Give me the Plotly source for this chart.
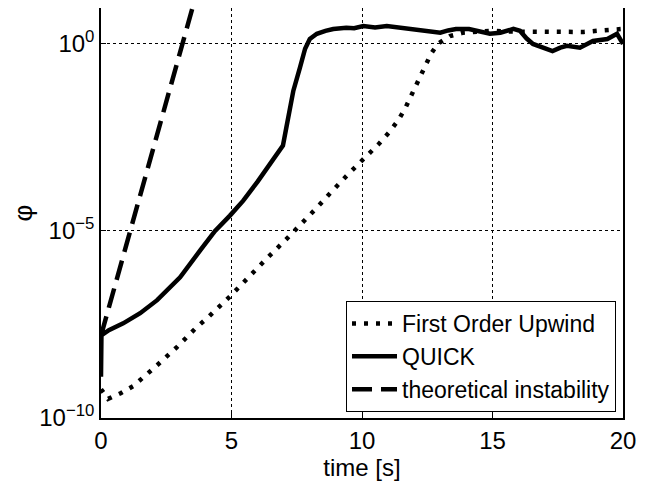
import plotly.graph_objects as go

# ---- data (log10 values) ----
upwind_t = [0.0, 0.27, 0.77, 1.23, 2.07, 2.9, 3.67, 4.1, 4.94, 5.7, 6.36, 7.13, 7.55, 7.93,
            8.31, 8.7, 9.08, 9.46, 9.88, 10.3, 10.65, 11.03, 11.38, 11.65, 11.92, 12.15,
            12.38, 12.64, 12.9, 13.37, 13.87, 14.5, 15.0, 15.5, 16.0, 16.5, 17.0, 17.5,
            18.0, 18.5, 19.0, 19.5, 20.0]
upwind_log = [-9.23, -9.49, -9.33, -9.15, -8.64, -8.11, -7.57, -7.31, -6.75, -6.19, -5.73,
              -5.2, -4.91, -4.64, -4.35, -4.05, -3.79, -3.49, -3.2, -2.93, -2.67, -2.37,
              -2.05, -1.73, -1.33, -0.93, -0.64, -0.27, 0.0, 0.21, 0.3, 0.33, 0.35, 0.33,
              0.33, 0.3, 0.3, 0.3, 0.3, 0.32, 0.35, 0.37, 0.4]

quick_t = [0.0, 0.02, 0.1, 0.3, 0.85, 1.5, 2.15, 3.03, 3.8, 4.37, 4.94, 5.45, 6.0, 6.47,
           6.97, 7.1, 7.37, 7.62, 7.82, 8.0, 8.27, 8.6, 8.9, 9.4, 9.7, 10.05, 10.5, 10.95,
           11.3, 11.6, 12.0, 12.35, 12.7, 13.0, 13.3, 13.6, 14.1, 14.5, 14.9, 15.3, 15.8,
           16.05, 16.3, 16.55, 16.9, 17.3, 17.6, 17.85, 18.35, 18.85, 19.4, 19.77, 20.0]
quick_log = [-8.9, -7.6, -7.75, -7.65, -7.47, -7.2, -6.85, -6.24, -5.52, -5.0, -4.59, -4.19,
             -3.68, -3.2, -2.72, -2.24, -1.25, -0.64, -0.13, 0.13, 0.27, 0.35, 0.4, 0.43,
             0.42, 0.48, 0.44, 0.48, 0.45, 0.43, 0.38, 0.35, 0.33, 0.3, 0.36, 0.4, 0.4,
             0.33, 0.27, 0.3, 0.4, 0.35, 0.15, 0.0, -0.08, -0.19, -0.1, -0.05, -0.1, 0.08,
             0.13, 0.27, 0.0]

theory_t = [0.0, 3.6]
theory_log = [-7.8, 1.2]

ytick_vals = [1e-10, 1e-5, 1e0]
ytick_text = ["10<sup>−10</sup>", "10<sup>−5</sup>", "10<sup>0</sup>"]
xtick_vals = [0, 5, 10, 15, 20]

upwind_y = [10 ** v for v in upwind_log]
quick_y = [10 ** v for v in quick_log]
theory_y = [10 ** v for v in theory_log]

fig = go.Figure()
fig.add_trace(go.Scatter(x=upwind_t, y=upwind_y, mode="lines", name="First Order Upwind",
                         line=dict(color="black", width=4.5, dash="4px,8px")))
fig.add_trace(go.Scatter(x=quick_t, y=quick_y, mode="lines", name="QUICK",
                         line=dict(color="black", width=4.5)))
fig.add_trace(go.Scatter(x=theory_t, y=theory_y, mode="lines", name="theoretical instability",
                         line=dict(color="black", width=4.5, dash="20px,9px")))

font = "Liberation Sans, Arial, sans-serif"
# the page body adds an 8px offset, so the figure is 8px smaller than the window
fig.update_layout(
    width=637, height=473,
    margin=dict(l=93, r=22, t=0, b=63, autoexpand=False),
    paper_bgcolor="white", plot_bgcolor="white",
    font=dict(family=font, size=23, color="black"),
    showlegend=True,
    legend=dict(x=0.9866, y=0.0146, xanchor="right", yanchor="bottom",
                bgcolor="white", bordercolor="black", borderwidth=1,
                font=dict(size=23, family=font), tracegroupgap=0,
                itemwidth=45),
)
fig.update_xaxes(
    range=[0, 20], tickvals=xtick_vals, showline=True, linecolor="black", linewidth=1.5,
    mirror=True, ticks="inside", ticklen=5, tickcolor="black", automargin=False,
    showgrid=True, gridcolor="black", griddash="dot", gridwidth=1, zeroline=False,
    tickfont=dict(size=24), title=dict(text="time [s]", font=dict(size=24), standoff=11),
)
fig.update_yaxes(
    type="log", range=[-10, 0.96], tickvals=ytick_vals, ticktext=ytick_text,
    showline=True, linecolor="black", linewidth=1.5, mirror=True, automargin=False,
    ticks="inside", ticklen=5, tickcolor="black",
    showgrid=True, gridcolor="black", griddash="dot", gridwidth=1, zeroline=False,
    tickfont=dict(size=24), title=dict(text="φ", font=dict(size=26), standoff=10),
)

fig.write_html("out.html")
